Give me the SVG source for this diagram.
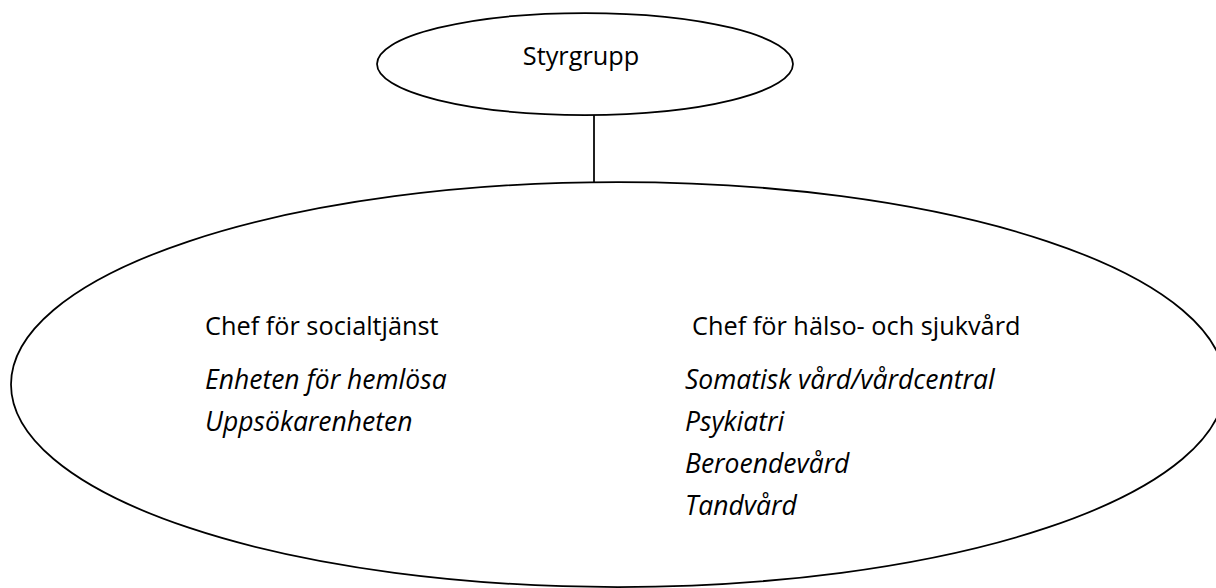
<svg xmlns="http://www.w3.org/2000/svg" width="1216" height="588" viewBox="0 0 1216 588">
<style>
.shape{fill:#fff;stroke:#000;stroke-width:1.75}
.t{font-family:"Open Sans","Noto Sans","Liberation Sans",sans-serif;font-size:25.3px;fill:#000}
.i{font-style:italic;font-size:26.5px}
</style>
<rect width="1216" height="588" fill="#fff"/>
<g id="connectors">
<line x1="594" y1="115" x2="594" y2="183" stroke="#000" stroke-width="1.75"/>
</g>
<g id="styrgrupp">
<ellipse class="shape" cx="585" cy="64" rx="208" ry="51"/>
<text class="t" x="581" y="65" text-anchor="middle">Styrgrupp</text>
</g>
<g id="organisation">
<ellipse class="shape" cx="618" cy="384.5" rx="607" ry="202.5"/>
<text class="t" x="205" y="335">Chef för socialtjänst</text>
<text class="t i" x="205" y="389">Enheten för hemlösa</text>
<text class="t i" x="205" y="431">Uppsökarenheten</text>
<text class="t" x="692" y="335">Chef för hälso- och sjukvård</text>
<text class="t i" x="685" y="389">Somatisk vård/vårdcentral</text>
<text class="t i" x="685" y="431">Psykiatri</text>
<text class="t i" x="685" y="473">Beroendevård</text>
<text class="t i" x="685" y="515">Tandvård</text>
</g>
</svg>
